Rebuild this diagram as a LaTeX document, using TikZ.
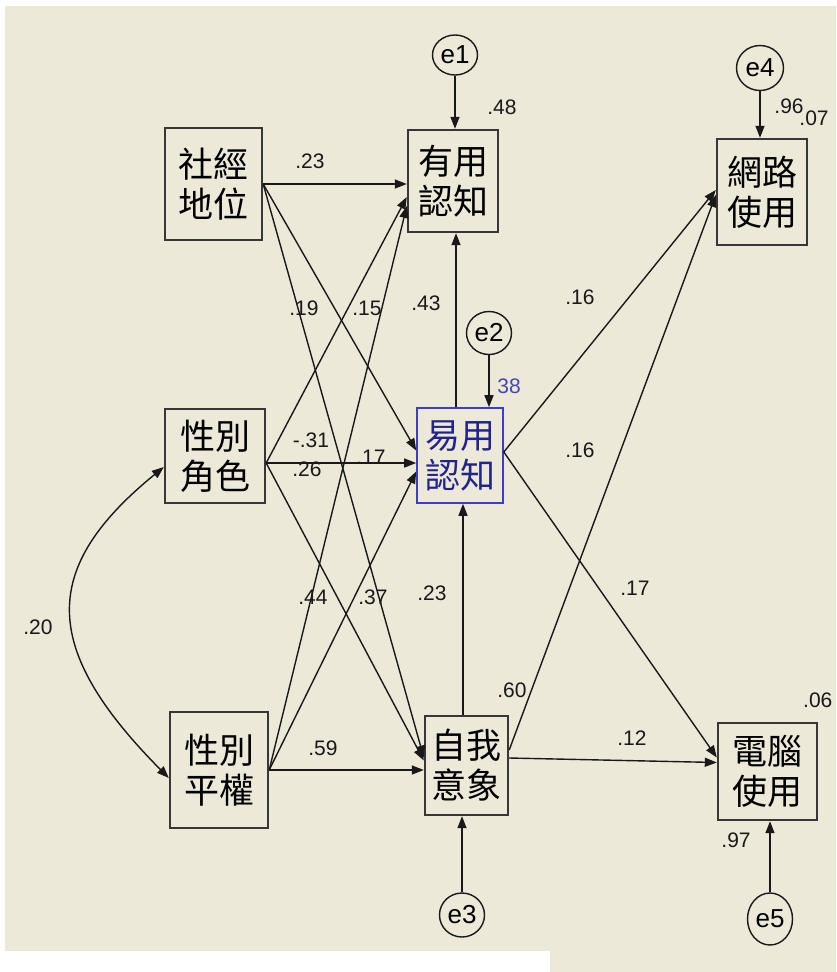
\documentclass[tikz,border=0pt]{standalone}
\usepackage{fontspec}
\setmainfont{Liberation Sans}
\newfontfamily\cjk{Noto Sans CJK TC}
\usetikzlibrary{arrows.meta,shapes.geometric,calc}
\definecolor{bg}{RGB}{236,233,216}
\definecolor{boxline}{RGB}{55,55,55}
\definecolor{edgeline}{RGB}{25,25,25}
\definecolor{blueline}{RGB}{60,60,205}
\definecolor{bluetext}{RGB}{35,35,140}
\definecolor{bluelabel}{RGB}{70,70,180}
\tikzset{
  varbox/.style={draw=boxline, line width=2.4pt, rectangle, inner sep=0pt, align=center,
    font=\fontsize{35}{40}\selectfont\cjk, text=black},
  bluebox/.style={varbox, draw=blueline, line width=1.6pt, text=bluetext},
  errnode/.style={draw=edgeline, line width=1.4pt, ellipse, inner sep=0pt,
    font=\fontsize{26}{26}\selectfont},
  coef/.style={inner sep=0pt, font=\fontsize{21}{21}\selectfont, text=black!90},
  path/.style={draw=edgeline, line width=1.4pt, -{Triangle[length=12pt,width=9pt]}},
  cov/.style={draw=edgeline, line width=1.4pt, {Triangle[length=12pt,width=9pt]}-{Triangle[length=12pt,width=9pt]}}
}
\begin{document}
\begin{tikzpicture}[x=1pt,y=-1pt]
\fill[white] (0,0) rectangle (836,972);
\fill[bg] (5,6) rectangle (836,972);
\fill[white] (0,951) rectangle (550,972);
\useasboundingbox (0,0) rectangle (836,972);

% observed variables
\node[varbox, minimum width=97pt, minimum height=112pt] (ses) at (213.5,184) {社經\\地位};
\node[varbox, minimum width=90pt, minimum height=102pt] (pu) at (453,181) {有用\\認知};
\node[varbox, minimum width=90pt, minimum height=106pt] (net) at (762,192) {網路\\使用};
\node[varbox, minimum width=100pt, minimum height=94pt] (role) at (215,456) {性別\\角色};
\node[bluebox, minimum width=86pt, minimum height=95pt] (peou) at (460,455.5) {易用\\認知};
\node[varbox, minimum width=98pt, minimum height=116pt] (eq) at (219,770) {性別\\平權};
\node[varbox, minimum width=83pt, minimum height=99pt] (self) at (466.5,765.5) {自我\\意象};
\node[varbox, minimum width=99pt, minimum height=97pt] (comp) at (767.5,771.5) {電腦\\使用};

% error terms
\node[errnode, minimum width=45pt, minimum height=40pt] (e1) at (455,55) {e1};
\node[errnode, minimum width=45pt, minimum height=43pt] (e2) at (489,333) {e2};
\node[errnode, minimum width=45pt, minimum height=44pt] (e3) at (462,915) {e3};
\node[errnode, minimum width=47pt, minimum height=45pt] (e4) at (760,68) {e4};
\node[errnode, minimum width=45pt, minimum height=52pt] (e5) at (770,919) {e5};

% paths from exogenous variables
\draw[path] (ses.east) -- (ses.east -| pu.west);
\draw[path] (ses.east) -- ($(peou.west)+(0,-5)$);
\draw[path] (ses.east) -- ($(self.west)+(0,-8)$);

\coordinate (R) at ($(role.east)+(0,7)$);
\draw[path] (R) -- ($(pu.west)+(0,16)$);
\draw[path] (R) -- (R -| peou.west);
\draw[path] (R) -- ($(self.west)+(0,-5)$);

\draw[path] (eq.east) -- ($(pu.west)+(0,25)$);
\draw[path] (eq.east) -- ($(peou.west)+(0,16)$);
\draw[path] (eq.east) -- (eq.east -| self.west);

% endogenous paths
\coordinate (PT) at ($(peou.north)+(-4,0)$);
\draw[path] (PT) -- (PT |- pu.south);
\coordinate (ST) at ($(self.north)+(-3.5,0)$);
\draw[path] (ST) -- (ST |- peou.south);
\coordinate (P) at ($(peou.east)+(0,-3.5)$);
\draw[path] (P) -- ($(net.west)+(0,-2)$);
\draw[path] (P) -- ($(comp.west)+(0,-14)$);
\draw[path] ($(self.east)+(0,-15.5)$) -- ($(net.west)+(0,3)$);
\draw[path] ($(self.east)+(0,-7.5)$) -- ($(comp.west)+(0,-9)$);

% error paths
\draw[path] (e1.south) -- (e1.south |- pu.north);
\draw[path] (e2.south) -- (e2.south |- peou.north);
\draw[path] (e3.north) -- (e3.north |- self.south);
\draw[path] (e4.south) -- (e4.south |- net.north);
\draw[path] (e5.north) -- (e5.north |- comp.south);

% covariance
\draw[cov] ($(role.west)+(0,11)$) .. controls (40,568) and (40,648) .. ($(eq.west)+(0,8)$);

% coefficients
\node[coef] (c1) at (310,161) {.23};
\node[coef] (c2) at (502,107) {.48};
\node[coef] (c3) at (789,106) {.96};
\node[coef] (c4) at (814,118) {.07};
\node[coef] (c5) at (304,308) {.19};
\node[coef] (c6) at (367,308) {.15};
\node[coef] (c7) at (426,303) {.43};
\node[coef] (c8) at (311,440) {-.31};
\node[coef] (c9) at (307,469) {.26};
\node[coef] (c10) at (371,457) {.17};
\node[coef, text=bluelabel] (c11) at (509,386) {38};
\node[coef] (c12) at (580,297) {.16};
\node[coef] (c13) at (580,450) {.16};
\node[coef] (c14) at (635,588) {.17};
\node[coef] (c15) at (512,690) {.60};
\node[coef] (c16) at (632,738) {.12};
\node[coef, anchor=west] (c17) at (803,700) {.06};
\node[coef] (c18) at (736,840) {.97};
\node[coef] (c19) at (323,748) {.59};
\node[coef] (c20) at (313,597) {.44};
\node[coef] (c21) at (373,597) {.37};
\node[coef] (c22) at (432,593) {.23};
\node[coef] (c23) at (38,627) {.20};
\end{tikzpicture}
\end{document}
